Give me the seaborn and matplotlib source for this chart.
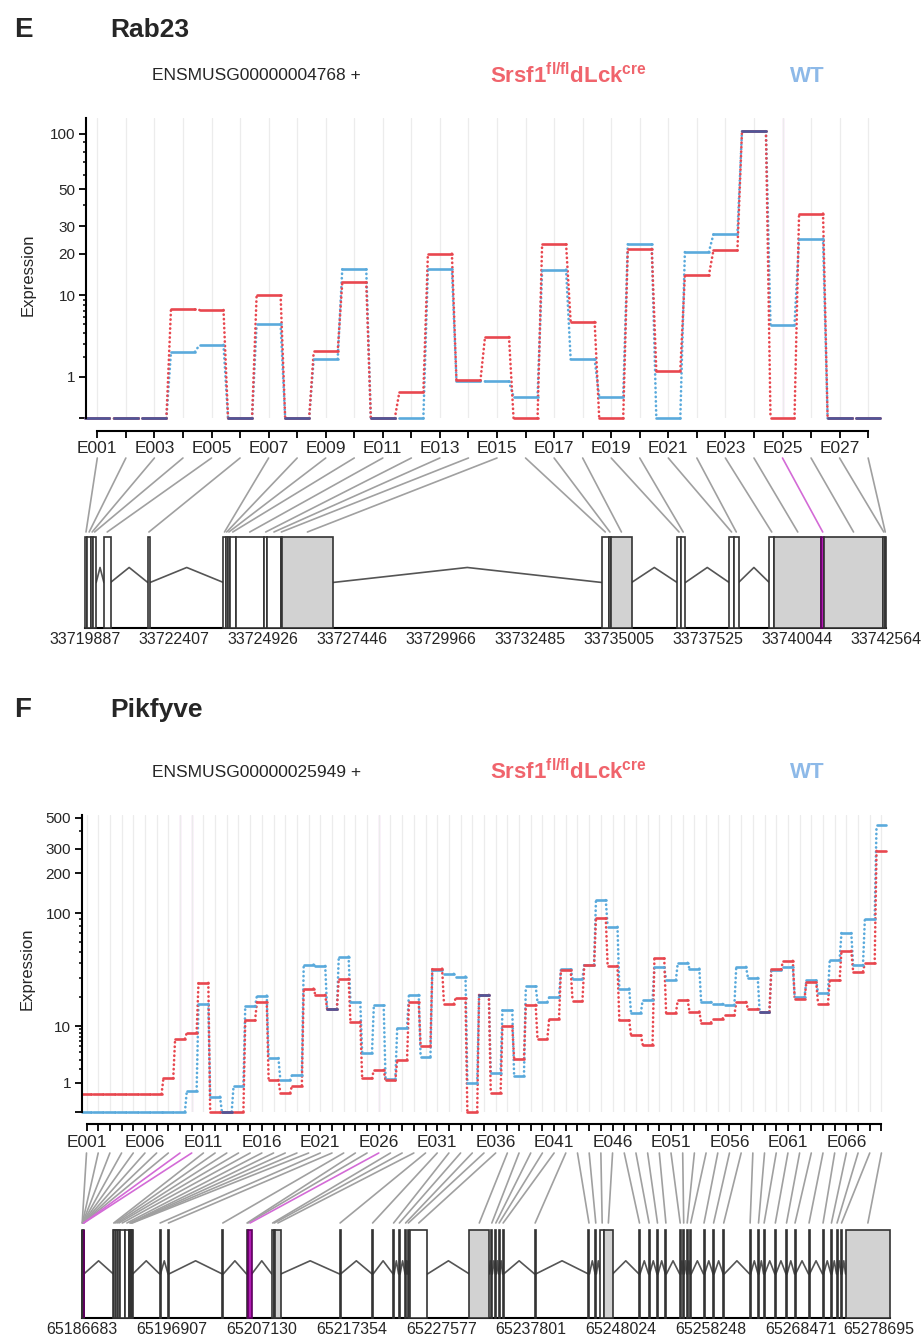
import numpy as np
import pandas as pd
import matplotlib
matplotlib.use('Agg')
import matplotlib.pyplot as plt
import seaborn as sns
from matplotlib.patches import Rectangle, ConnectionPatch
from matplotlib.transforms import blended_transform_factory, ScaledTranslation

sns.set_style('white')
plt.rcParams['font.family'] = ['Liberation Sans', 'DejaVu Sans']
plt.rcParams['mathtext.fontset'] = 'custom'
plt.rcParams['mathtext.rm'] = 'Liberation Sans'
plt.rcParams['mathtext.bf'] = 'Liberation Sans:bold'

# ---------------- data ----------------
# Rab23 (28 exonic bins)
rab_ko = [0, 0, 0, 7.2, 7.1, 0, 10, 0, 2.4, 12.5, 0, 0.55, 20, 0.88, 3.6, 0, 23, 5.3, 0,
          21.4, 1.27, 14, 21, 103, 0, 35.7, 0, 0]
rab_wt = [0, 0, 0, 2.37, 2.9, 0, 5.0, 0, 1.9, 15.5, 0, 0, 15.5, 0.86, 0.85, 0.43, 15.4, 1.88,
          0.43, 23, 0, 20.5, 26.6, 103, 4.9, 25, 0, 0]
rab_start = [33719887, 33719944, 33720065, 33720113, 33720422, 33721665, 33723808, 33723865,
             33723930, 33723992, 33724148, 33724955, 33725051, 33725422, 33725470, 33734523,
             33734710, 33734787, 33736650, 33736760, 33738124, 33738260, 33739259, 33739398,
             33740734, 33740811, 33742479, 33742522]
rab_end = [33719944, 33720065, 33720113, 33720204, 33720609, 33721727, 33723865, 33723930,
           33723992, 33724148, 33724955, 33725051, 33725422, 33725470, 33726897, 33734710,
           33734787, 33735361, 33736760, 33736884, 33738260, 33738390, 33739398, 33740734,
           33740811, 33742479, 33742522, 33742564]
rab_range = (33719887, 33742564)
rab_shaded = ['E015', 'E018', 'E024', 'E026']
rab_signif = ['E025']

# Pikfyve (69 exonic bins)
pik_ko = [0.53, 0.53, 0.53, 0.53, 0.53, 0.53, 0.53, 1.29, 6.5, 8.0,
          27, 0, 0, 0, 11.5, 17.8, 1.17, 0.57, 0.87, 23.9,
          20.9, 15.1, 29.4, 11.1, 1.29, 1.94, 1.15, 3.0, 17.6, 5.1,
          36, 17, 19.5, 0, 20.9, 0.57, 10, 3.1, 16.6, 6.5,
          12, 35, 18.2, 38.5, 91.7, 38, 11.5, 7.3, 5.3, 44,
          13.8, 18.6, 14.2, 10.9, 12, 13, 17.8, 15.1, 14.2, 35.5,
          42, 19.2, 27.5, 17, 28.4, 51, 34, 40, 290]
pik_wt = [0, 0, 0, 0, 0, 0, 0, 0, 0, 0.64,
          17, 0.43, 0, 0.85, 16.1, 20.6, 3.2, 1.17, 1.53, 39,
          38, 15.1, 45.6, 17.6, 3.9, 16.4, 1.25, 9.5, 20.9, 3.4,
          35, 32.5, 30.8, 1.0, 20.9, 1.66, 14.6, 1.45, 25.1, 17.8,
          19.9, 35.5, 29.4, 39, 126, 78.6, 23.9, 13.8, 18.8, 37,
          28.8, 40.4, 36, 17.8, 17, 16.6, 37.3, 30, 14.2, 35,
          37.3, 20, 28.4, 21.6, 42.6, 70.3, 38.5, 90, 441]
pik_start = [65186683, 65186703, 65186723, 65186743, 65186763, 65186783, 65186803, 65186823,
             65186843, 65186863, 65190237, 65190339, 65190544, 65190772, 65191000, 65191512,
             65192059, 65192162, 65192253, 65192344, 65195522, 65196467, 65202652, 65205408,
             65205522, 65205613, 65208278, 65208483, 65208654, 65216001, 65219703, 65222095,
             65222721, 65223461, 65223746, 65224031, 65230785, 65233279, 65233735, 65234111,
             65234567, 65238211, 65244339, 65245102, 65245672, 65246127, 65250091, 65251183,
             65252141, 65253098, 65254727, 65255126, 65255524, 65255923, 65257438, 65258531,
             65259682, 65262688, 65263645, 65264283, 65265559, 65266834, 65267803, 65269397,
             65270992, 65271949, 65272586, 65273099, 65273611]
pik_end = [65186703, 65186723, 65186743, 65186763, 65186783, 65186803, 65186823, 65186843,
           65186863, 65186883, 65190339, 65190544, 65190772, 65191000, 65191512, 65192059,
           65192162, 65192253, 65192344, 65192446, 65195613, 65196558, 65202754, 65205522,
           65205613, 65206000, 65208483, 65208654, 65209304, 65216115, 65219817, 65222208,
           65222892, 65223575, 65223917, 65226001, 65233029, 65233393, 65233849, 65234225,
           65234680, 65238325, 65244453, 65245239, 65246127, 65247084, 65250205, 65251298,
           65252255, 65253212, 65254841, 65255239, 65255638, 65256037, 65257552, 65258645,
           65259795, 65262802, 65263759, 65264397, 65265673, 65266948, 65267916, 65269511,
           65271106, 65272062, 65272700, 65273213, 65278695]
pik_range = (65186683, 65278695)
pik_shaded = ['E029', 'E037', 'E046', 'E069']
pik_signif = ['E009', 'E010', 'E026']

RED = '#E8474F'
BLUE = '#5AAADC'
BOTH = '#4E5799'
PINK = '#F3C4EE'
MAGENTA = '#D36BD6'

# y scale (DEXSeq style, compressed at low counts)
KN_X = np.array([0, 1, 10, 20, 30, 50, 100, 200, 300, 500, 100000])
KN_F = np.array([0, 0.257, 0.76, 1.018, 1.188, 1.418, 1.76, 2.115, 2.334, 2.61, 5.46])
KN_G = np.log10(KN_X + 1)


def fwd(y):
    y = np.asarray(y, dtype=float)
    return np.interp(np.log10(np.clip(y, 0, None) + 1), KN_G, KN_F)


def inv(f):
    f = np.asarray(f, dtype=float)
    return 10 ** np.interp(f, KN_F, KN_G) - 1


W, H = 921, 1339
fig = plt.figure(figsize=(W / 100, H / 100), dpi=100)


def fr(left, top, right, bottom):
    return [left / W, 1 - bottom / H, (right - left) / W, (bottom - top) / H]


def draw_expression(ax, ko, wt, xlim, ymax, yticks, yminor, step, signif):
    n = len(ko)
    half = 0.42
    flat, conn, both = [], [], []
    for cond, vals in (('wt', wt), ('ko', ko)):
        for i, v in enumerate(vals, start=1):
            flat += [dict(cond=cond, seg=i, x=i - half, y=v), dict(cond=cond, seg=i, x=i + half, y=v)]
            if i < n:
                conn += [dict(cond=cond, seg=i, x=i + half, y=v),
                         dict(cond=cond, seg=i, x=i + 1 - half, y=vals[i])]
    for i in range(1, n + 1):
        if ko[i - 1] == wt[i - 1]:
            both += [dict(seg=i, x=i - half, y=ko[i - 1]), dict(seg=i, x=i + half, y=ko[i - 1])]
    flat, conn, both = pd.DataFrame(flat), pd.DataFrame(conn), pd.DataFrame(both)
    pal = {'ko': RED, 'wt': BLUE}

    ax.set_yscale('function', functions=(fwd, inv))
    ax.set_xlim(*xlim)
    ax.set_ylim(0, ymax)
    ax.set_axisbelow(True)
    ax.set_xticks(range(1, n + 1))
    ax.grid(axis='x', color='#ECECEC', lw=0.9)
    ax.grid(axis='y', visible=False)
    for name in signif:
        ax.axvline(int(name[1:]), color=PINK, lw=1.0, zorder=0.5)

    sns.lineplot(data=conn, x='x', y='y', hue='cond', units='seg', estimator=None, palette=pal,
                 legend=False, ax=ax, lw=1.9, linestyle=(0, (0.1, 1.6)), dash_capstyle='round',
                 sort=False, clip_on=False)
    sns.lineplot(data=flat, x='x', y='y', hue='cond', units='seg', estimator=None, palette=pal,
                 legend=False, ax=ax, lw=1.9, sort=False, clip_on=False)
    if len(both):
        sns.lineplot(data=both, x='x', y='y', units='seg', estimator=None, color=BOTH,
                     legend=False, ax=ax, lw=1.9, sort=False, clip_on=False)

    ax.set_xticklabels([f'E{i:03d}' if (i - 1) % step == 0 else '' for i in range(1, n + 1)])
    ax.set_yticks(yticks)
    ax.set_yticklabels(['' if t == 0 else str(t) for t in yticks])
    ax.set_yticks(yminor, minor=True)
    ax.tick_params(axis='both', which='major', direction='out', length=5, width=1.3,
                   color='black', pad=2.5, left=True, bottom=True)
    ax.tick_params(axis='x', which='major', labelsize=12.5)
    ax.tick_params(axis='y', which='major', labelsize=11)
    ax.tick_params(axis='y', which='minor', direction='out', length=2.5, width=1.1,
                   color='black', left=True)
    for s in ('top', 'right'):
        ax.spines[s].set_visible(False)
    for s in ('left', 'bottom'):
        ax.spines[s].set_color('black')
        ax.spines[s].set_linewidth(1.5)
    ax.spines['bottom'].set_position(('outward', 9))
    ax.spines['bottom'].set_bounds(1, n)
    ax.set_xlabel('')
    ax.set_ylabel('Expression', fontsize=12)


def draw_gene(ax, starts, ends, grange, shaded, signif, peak):
    for e, s in zip(ends[:-1], starts[1:]):
        if s > e:
            ax.plot([e, (e + s) / 2, s], [0.5, 0.5 + peak, 0.5], color='#555555', lw=1.2)
    for k, (s, e) in enumerate(zip(starts, ends)):
        name = f'E{k + 1:03d}'
        if name in signif:
            fc, ec = '#B21BB5', '#5E005E'
        elif name in shaded:
            fc, ec = '#D2D2D2', '#333333'
        else:
            fc, ec = 'white', '#333333'
        ax.add_patch(Rectangle((s, 0), e - s, 1, facecolor=fc, edgecolor=ec, lw=1.2,
                               clip_on=False, zorder=3))
    ax.set_xlim(*grange)
    ax.set_ylim(0, 1)
    ticks = np.linspace(grange[0], grange[1], 10)
    ax.set_xticks(ticks)
    ax.set_xticklabels([f'{int(round(t))}' for t in ticks])
    ax.set_yticks([])
    ax.tick_params(axis='x', length=0, pad=3, labelsize=11.5)
    for s in ('top', 'left', 'right'):
        ax.spines[s].set_visible(False)
    ax.spines['bottom'].set_color('black')
    ax.spines['bottom'].set_linewidth(1.5)


def connect(ax_expr, ax_gene, starts, ends, signif, top_px, gene_y):
    trans_top = blended_transform_factory(ax_expr.transData, fig.transFigure)
    for k, (s, e) in enumerate(zip(starts, ends)):
        name = f'E{k + 1:03d}'
        col = MAGENTA if name in signif else '#A0A0A0'
        con = ConnectionPatch(xyA=(k + 1, 1 - top_px / H), coordsA=trans_top,
                              xyB=((s + e) / 2, gene_y), coordsB=ax_gene.transData,
                              color=col, lw=1.2, zorder=1 if col != MAGENTA else 2)
        fig.add_artist(con)


def header(y_title, y_sub, letter, gene, ens):
    fig.text(14 / W, 1 - y_title / H, letter, fontsize=20, fontweight='bold', va='center')
    fig.text(110 / W, 1 - y_title / H, gene, fontsize=19, fontweight='bold', va='center')
    fig.text(152 / W, 1 - y_sub / H, ens, fontsize=12.5, va='center')
    fig.text(490 / W, 1 - y_sub / H, r'$\mathbf{Srsf1^{fl/fl}dLck^{cre}}$', fontsize=16,
             color='#F0646C', va='center')
    fig.text(790 / W, 1 - y_sub / H, 'WT', fontsize=16, fontweight='bold', color='#8DB9E8',
             va='center')


# ---------------- panel E: Rab23 ----------------
header(30, 76, 'E', 'Rab23', 'ENSMUSG00000004768 +')
ax1 = fig.add_axes(fr(86, 118, 882, 418.3))
draw_expression(ax1, rab_ko, rab_wt, (0.604, 28.485), 121,
                [0, 1, 10, 20, 30, 50, 100], [2, 3, 4, 5, 6, 7, 8, 9, 40, 60, 70, 80, 90],
                2, rab_signif)
ax1.yaxis.set_label_coords(-0.063, 0.477)
g1 = fig.add_axes(fr(85, 537, 886, 628))
draw_gene(g1, rab_start, rab_end, rab_range, rab_shaded, rab_signif, 0.165)
connect(ax1, g1, rab_start, rab_end, rab_signif, 458, 1 + 5 / 91)

# ---------------- panel F: Pikfyve ----------------
header(710, 772, 'F', 'Pikfyve', 'ENSMUSG00000025949 +')
ax2 = fig.add_axes(fr(81.5, 815, 886.7, 1111.7))
draw_expression(ax2, pik_ko, pik_wt, (0.572, 69.45), 523,
                [0, 1, 10, 100, 200, 300, 500],
                [2, 3, 4, 5, 6, 7, 8, 9, 20, 30, 40, 50, 60, 70, 80, 90, 400],
                5, pik_signif)
ax2.yaxis.set_label_coords(-0.058, 0.481)
g2 = fig.add_axes(fr(82.1, 1230, 890.2, 1318))
draw_gene(g2, pik_start, pik_end, pik_range, pik_shaded, pik_signif, 0.15)
connect(ax2, g2, pik_start, pik_end, pik_signif, 1153, 1 + 7 / 88)

# keep the last genomic label inside the figure edge
last = g2.get_xticklabels()[-1]
last.set_transform(last.get_transform() + ScaledTranslation(-8 / 72, 0, fig.dpi_scale_trans))

fig.savefig('out.png', dpi=100)
